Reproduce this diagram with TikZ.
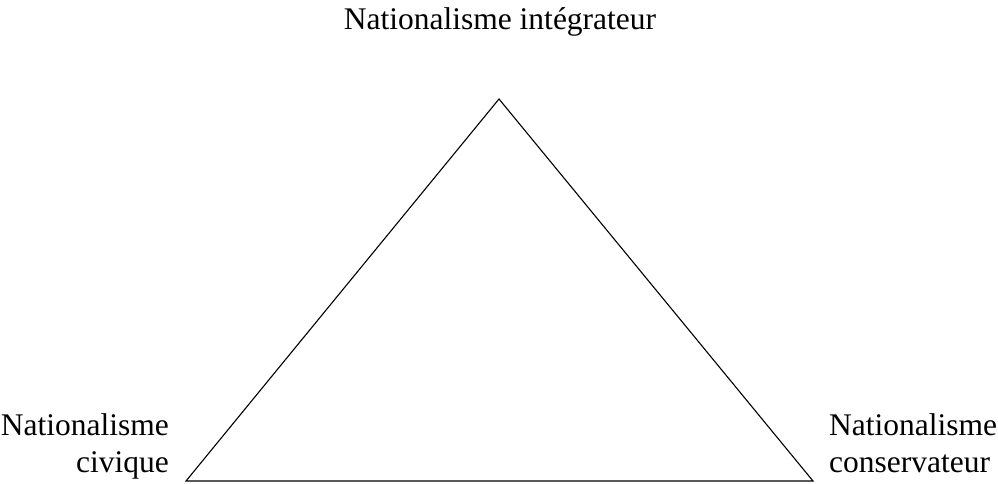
\documentclass[tikz,border=0pt]{standalone}
\usepackage{fontspec}
\setmainfont{Liberation Serif}
\begin{document}
\begin{tikzpicture}[x=1pt,y=1pt,
  lbl/.style={font=\fontsize{31.5}{36}\selectfont, inner sep=0pt},
  edge/.style={line width=1.1pt, line join=miter}]
\useasboundingbox (0,0) rectangle (998,483);
\coordinate (T) at (499,384);
\coordinate (L) at (186,2);
\coordinate (R) at (813,2);
\draw[edge] (L) -- (T) -- (R) -- cycle;
\node[lbl, anchor=base] (top) at (500,453) {Nationalisme intégrateur};
\node[lbl, anchor=base east] (l1) at (169,48) {Nationalisme};
\node[lbl, anchor=base east] (l2) at (169,11) {civique};
\node[lbl, anchor=base west] (r1) at (829,48) {Nationalisme};
\node[lbl, anchor=base west] (r2) at (829,11) {conservateur};
\end{tikzpicture}
\end{document}
